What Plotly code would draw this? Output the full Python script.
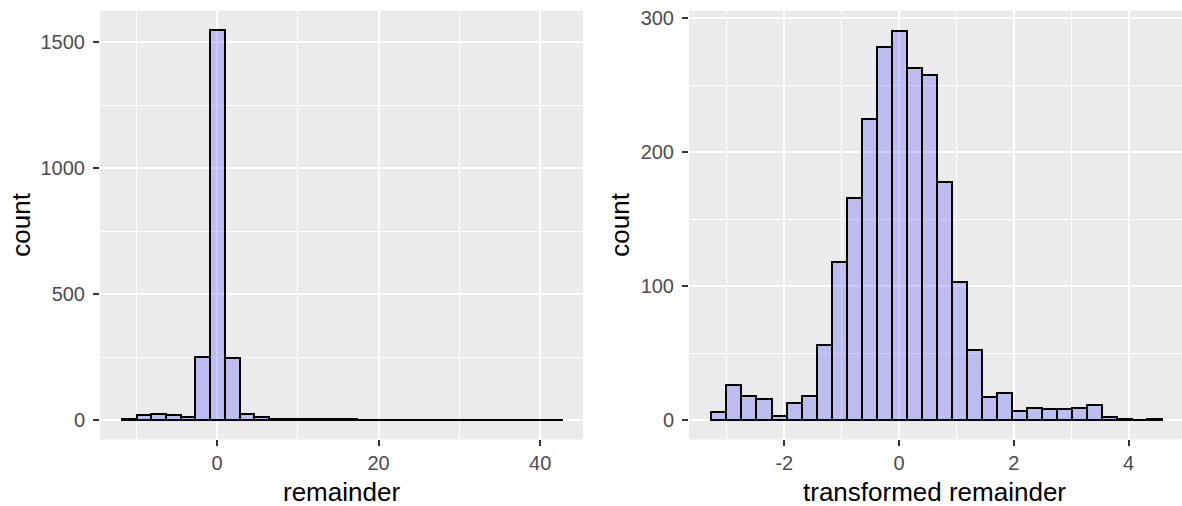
import numpy as np
import plotly.graph_objects as go

# left histogram: raw remainder (30 bins)
rem_lo = -11.77
rem_binwidth = 1.82
rem_counts = [5, 21, 26, 21, 14, 249, 1548, 245, 25, 12,
              6, 4, 3, 4, 5, 3, 2, 1, 1, 1,
              1, 0, 1, 0, 0, 1, 0, 0, 0, 1]

# right histogram: transformed remainder (30 bins)
trem_lo = -3.27
trem_binwidth = 0.262
trem_counts = [6, 26, 18, 16, 3, 13, 18, 56, 118, 166,
               225, 279, 291, 263, 258, 178, 103, 52, 17, 20,
               7, 9, 8, 8, 9, 11, 2, 1, 0, 1]

FILL = "rgba(0,0,255,0.2)"
PANEL = "#EBEBEB"
TICKFONT = dict(family="Liberation Sans, Arial, sans-serif", size=20, color="#4D4D4D")
TITLEFONT = dict(family="Liberation Sans, Arial, sans-serif", size=26, color="#000000")

W, H = 1182, 506


def px(x):
    return x / W


def py(y):
    return 1 - y / H


def centers(lo, w, n):
    return lo + w * (np.arange(n) + 0.5)


fig = go.Figure()
fig.add_trace(go.Bar(
    x=centers(rem_lo, rem_binwidth, len(rem_counts)),
    y=rem_counts,
    width=rem_binwidth,
    marker=dict(color=FILL, line=dict(color="black", width=2)),
    xaxis="x", yaxis="y", showlegend=False,
))
fig.add_trace(go.Bar(
    x=centers(trem_lo, trem_binwidth, len(trem_counts)),
    y=trem_counts,
    width=trem_binwidth,
    marker=dict(color=FILL, line=dict(color="black", width=2)),
    xaxis="x2", yaxis="y2", showlegend=False,
))

y_dom = [py(439), py(8)]
axis_common = dict(
    showgrid=True, gridcolor="white", gridwidth=2.2,
    zeroline=False, showline=False,
    ticks="outside", ticklen=6, tickwidth=2, tickcolor="#333333",
    tickfont=TICKFONT,
)
minor = dict(showgrid=True, gridcolor="white", gridwidth=1.1, ticks="")

fig.update_layout(
    width=W, height=H,
    margin=dict(l=0, r=0, t=0, b=0),
    paper_bgcolor="white", plot_bgcolor=PANEL,
    bargap=0,
    xaxis=dict(domain=[px(100), px(583)], range=[-14.49, 45.3],
               tickvals=[0, 20, 40], ticktext=["0", "20", "40"],
               minor=dict(dtick=10, tick0=0, **minor),
               anchor="y", ticklabelstandoff=0, **axis_common),
    yaxis=dict(domain=y_dom, range=[-77, 1625],
               tickvals=[0, 500, 1000, 1500], ticktext=["0", "500", "1000", "1500"],
               minor=dict(dtick=250, tick0=0, **minor),
               anchor="x", ticklabelstandoff=4, **axis_common),
    xaxis2=dict(domain=[px(689), 1.0], range=[-3.66, 4.93],
                tickvals=[-2, 0, 2, 4], ticktext=["-2", "0", "2", "4"],
                minor=dict(dtick=1, tick0=0, **minor),
                anchor="y2", ticklabelstandoff=0, **axis_common),
    yaxis2=dict(domain=y_dom, range=[-14.55, 305.6],
                tickvals=[0, 100, 200, 300], ticktext=["0", "100", "200", "300"],
                minor=dict(dtick=50, tick0=0, **minor),
                anchor="x2", ticklabelstandoff=4, **axis_common),
)

fig.add_annotation(text="remainder", x=px(341.5), y=py(492), xref="paper", yref="paper",
                   showarrow=False, font=TITLEFONT, xanchor="center", yanchor="middle")
fig.add_annotation(text="transformed remainder", x=px(935), y=py(492), xref="paper", yref="paper",
                   showarrow=False, font=TITLEFONT, xanchor="center", yanchor="middle")
fig.add_annotation(text="count", x=px(21), y=py(223), xref="paper", yref="paper",
                   showarrow=False, font=TITLEFONT, textangle=-90, xanchor="center", yanchor="middle")
fig.add_annotation(text="count", x=px(620), y=py(223), xref="paper", yref="paper",
                   showarrow=False, font=TITLEFONT, textangle=-90, xanchor="center", yanchor="middle")

# drop the browser's default 8px body margin so the figure fills the window
fig.write_html("out.html", config={"displayModeBar": False},
               post_script="document.body.style.margin='0px';")
